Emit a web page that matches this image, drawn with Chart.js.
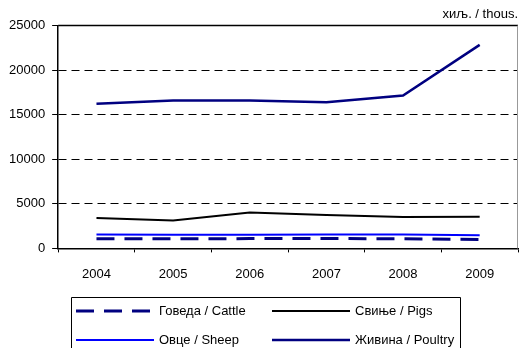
<!DOCTYPE html>
<html>
<head>
<meta charset="utf-8">
<script src="https://cdn.jsdelivr.net/npm/chart.js@4.4.0/dist/chart.umd.min.js"></script>
<style>
  body { margin: 0; background: #fff; }
  #wrap { width: 519px; height: 348px; }
</style>
</head>
<body>
<div id="wrap"><canvas id="chartStoka" width="519" height="348"></canvas></div>
<script>
// godine i broj stoke (hiljade)
var godine = ['2004', '2005', '2006', '2007', '2008', '2009'];
var goveda = [1080, 1080, 1100, 1100, 1090, 1000];
var svinje = [3400, 3140, 4040, 3740, 3510, 3550];
var ovce = [1550, 1540, 1520, 1560, 1560, 1470];
var zivina = [16220, 16590, 16590, 16400, 17150, 22840];
var yTicks = [0, 5000, 10000, 15000, 20000, 25000];
var jedinica = 'хиљ. / thous.';

var font = "'Liberation Sans', Arial, sans-serif";

// okvir oko plota + legenda u kutiji
var okvirPlugin = {
    id: 'okvir',
    afterDraw: function (chart) {
        var ctx = chart.ctx;
        var a = chart.chartArea;
        ctx.save();
        ctx.lineWidth = 1.5;
        ctx.strokeStyle = '#000';
        ctx.beginPath();
        ctx.moveTo(a.left, a.top);
        ctx.lineTo(a.right, a.top);
        ctx.stroke();
        ctx.strokeStyle = '#999';
        ctx.lineWidth = 1;
        ctx.beginPath();
        ctx.moveTo(a.right - 0.5, a.top);
        ctx.lineTo(a.right - 0.5, a.bottom);
        ctx.stroke();

        // legenda
        var boxL = 71.5, boxT = 297.5, boxR = 460.5;
        ctx.strokeStyle = '#000';
        ctx.lineWidth = 1;
        ctx.beginPath();
        ctx.moveTo(boxL, chart.height + 2);
        ctx.lineTo(boxL, boxT);
        ctx.lineTo(boxR, boxT);
        ctx.lineTo(boxR, chart.height + 2);
        ctx.stroke();

        var colX = [76, 272];
        var rowY = [311, 340];
        var lineLen = 78;
        ctx.font = '13px ' + font;
        ctx.textBaseline = 'middle';
        ctx.fillStyle = '#000';
        chart.data.datasets.forEach(function (ds, i) {
            var x = colX[i % 2];
            var y = rowY[Math.floor(i / 2)];
            ctx.save();
            ctx.strokeStyle = ds.borderColor;
            ctx.lineWidth = ds.borderWidth;
            ctx.setLineDash(ds.borderDash || []);
            ctx.beginPath();
            ctx.moveTo(x, y);
            ctx.lineTo(x + lineLen, y);
            ctx.stroke();
            ctx.restore();
            ctx.fillText(ds.label, x + lineLen + 5, y);
        });
        ctx.restore();
    }
};

var chartStoka = new Chart(document.getElementById('chartStoka').getContext('2d'), {
    type: 'line',
    data: {
        labels: godine,
        datasets: [{
            label: 'Говеда / Cattle',
            data: goveda,
            borderColor: '#000080',
            borderWidth: 3,
            borderDash: [18, 10]
        }, {
            label: 'Свиње / Pigs',
            data: svinje,
            borderColor: '#000000',
            borderWidth: 2
        }, {
            label: 'Овце / Sheep',
            data: ovce,
            borderColor: '#0000ff',
            borderWidth: 2
        }, {
            label: 'Живина / Poultry',
            data: zivina,
            borderColor: '#000080',
            borderWidth: 2.5
        }]
    },
    options: {
        responsive: false,
        animation: false,
        elements: {
            point: { radius: 0, hoverRadius: 0 },
            line: { tension: 0, fill: false }
        },
        layout: {
            padding: { left: 2, right: 1, top: 0, bottom: 52 }
        },
        plugins: {
            legend: { display: false },
            tooltip: { enabled: false },
            title: {
                display: true,
                text: jedinica,
                align: 'end',
                color: '#000',
                font: { family: font, size: 13, weight: 'normal' },
                padding: { top: 7, bottom: 3 }
            }
        },
        scales: {
            x: {
                offset: true,
                grid: {
                    offset: true,
                    drawOnChartArea: false,
                    drawTicks: true,
                    tickLength: 4,
                    tickColor: '#000',
                    tickWidth: 1
                },
                border: { display: true, color: '#000', width: 1.5 },
                ticks: {
                    color: '#000',
                    padding: 14,
                    maxRotation: 0,
                    font: { family: font, size: 13 }
                }
            },
            y: {
                min: 0,
                max: 25000,
                afterBuildTicks: function (axis) {
                    axis.ticks = yTicks.map(function (v) { return { value: v }; });
                },
                grid: {
                    color: function (c) {
                        return (c.tick.value === 0 || c.tick.value === 25000) ? 'rgba(0,0,0,0)' : '#000';
                    },
                    lineWidth: 1,
                    drawTicks: true,
                    tickLength: 6,
                    tickColor: '#000',
                    tickBorderDash: []
                },
                border: { display: true, color: '#000', width: 1.5, dash: [8, 5] },
                ticks: {
                    color: '#000',
                    padding: 7,
                    font: { family: font, size: 13 },
                    callback: function (v) { return String(v); }
                }
            }
        }
    },
    plugins: [okvirPlugin]
});
</script>
</body>
</html>
